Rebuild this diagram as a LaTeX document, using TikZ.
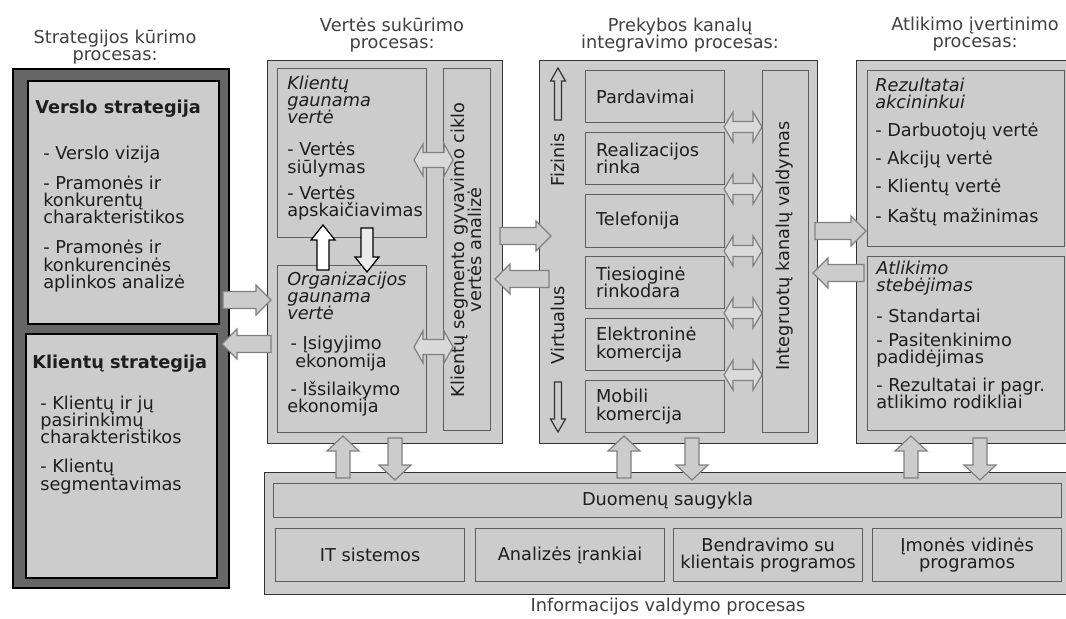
\documentclass[tikz,border=0pt]{standalone}
\usepackage{fontspec}
\setmainfont{DejaVu Sans}
\usetikzlibrary{calc}

\definecolor{boxfill}{HTML}{CCCCCC}
\definecolor{darkfill}{HTML}{666666}
\definecolor{frame}{HTML}{333333}
\definecolor{innerframe}{HTML}{5E5E5E}
\definecolor{arrowfill}{HTML}{CCCCCC}
\definecolor{arrowline}{HTML}{808080}
\definecolor{dblfill}{HTML}{DADADA}
\definecolor{ink}{HTML}{1E1E1E}

% one-headed block arrow: style, tail, tip, shaft half-width, head half-width, head length
\newcommand\blockarrow[6]{%
  \path ($(#3)!#6!(#2)$) coordinate (ba-base);
  \draw[#1] ($(#2)!#4!90:(#3)$) -- ($(ba-base)!#4!-90:(#2)$)
    -- ($(ba-base)!#5!-90:(#2)$) -- (#3) -- ($(ba-base)!#5!90:(#2)$)
    -- ($(ba-base)!#4!90:(#2)$) -- ($(#2)!#4!-90:(#3)$) -- cycle;
}
% two-headed block arrow: style, end A, end B, shaft half-width, head half-width, head length
\newcommand\twowayarrow[6]{%
  \path ($(#2)!#6!(#3)$) coordinate (tw-a) ($(#3)!#6!(#2)$) coordinate (tw-b);
  \draw[#1] (#2) -- ($(tw-a)!#5!90:(#3)$) -- ($(tw-a)!#4!90:(#3)$)
    -- ($(tw-b)!#4!-90:(#2)$) -- ($(tw-b)!#5!-90:(#2)$) -- (#3)
    -- ($(tw-b)!#5!90:(#2)$) -- ($(tw-b)!#4!90:(#2)$)
    -- ($(tw-a)!#4!-90:(#3)$) -- ($(tw-a)!#5!-90:(#3)$) -- cycle;
}

\tikzset{
  txt/.style={font=\fontsize{13.3pt}{13pt}\selectfont, text=ink, inner sep=0pt},
  sz/.style 2 args={minimum width=#1*0.75pt, minimum height=#2*0.75pt},
  panel/.style={draw=frame, fill=boxfill, line width=1.1pt, inner sep=0pt, anchor=north west},
  strategypanel/.style={draw=black, fill=darkfill, line width=1.4pt, inner sep=0pt, anchor=north west},
  strategybox/.style={draw=black, fill=boxfill, line width=1.4pt, inner sep=0pt, anchor=north west},
  cell/.style={draw=innerframe, fill=boxfill, line width=0.9pt, inner sep=0pt, anchor=north west},
  textcell/.style={cell, txt, align=left, text width=88.5pt},
  infocell/.style={cell, txt, align=center},
  title/.style={txt, text=ink!85, align=center, anchor=north},
  blocktext/.style={txt, align=left, anchor=north west},
  sidetext/.style={txt, rotate=90, align=center},
  bigarrow/.style={draw=arrowline, fill=arrowfill, line width=0.9pt},
  upwhite/.style={draw=black, fill=white, line width=0.9pt},
  downgrey/.style={draw=black, fill=black!8, line width=0.9pt},
  dblarrow/.style={draw=arrowline, fill=dblfill, line width=0.9pt},
  dirarrow/.style={draw=frame, fill=boxfill, line width=0.9pt},
}

\begin{document}
\begin{tikzpicture}[x=0.75pt, y=-0.75pt]
\useasboundingbox (0,0) rectangle (1066,618);
\clip (0,0) rectangle (1066,618);
\fill[white] (0,0) rectangle (1066,618);

% ---------- column titles ----------
\node[title] (t1) at (115,29.5) {Strategijos kūrimo\\procesas:};
\node[title] (t2) at (392,17.5) {Vertės sukūrimo\\procesas:};
\node[title] (t3) at (680,17.5) {Prekybos kanalų\\integravimo procesas:};
\node[title] (t4) at (975,16.5) {Atlikimo įvertinimo\\procesas:};

% ---------- strategy column ----------
\node[strategypanel, sz={216}{519}] (strat) at (12,68) {};
\node[strategybox, sz={191}{243}] (vs) at (27,80) {};
\node[strategybox, sz={191}{244}] (ks) at (25,333) {};
\node[blocktext] (vs-h) at (35,99.5) {\textbf{Verslo strategija}};
\node[blocktext] (vs-l) at (43,145.5) {- Verslo vizija\\[9.5pt]- Pramonės ir\\konkurentų\\charakteristikos\\[9.5pt]- Pramonės ir\\konkurencinės\\aplinkos analizė};
\node[blocktext] (ks-h) at (32,354.5) {\textbf{Klientų strategija}};
\node[blocktext] (ks-l) at (40,395.5) {- Klientų ir jų\\pasirinkimų\\charakteristikos\\[8.8pt]- Klientų\\segmentavimas};

% ---------- value creation column ----------
\node[panel, sz={235}{383}] (val) at (267,60) {};
\node[cell, sz={149}{169}] (kgv) at (277,68) {};
\node[cell, sz={149}{167}] (ogv) at (277,265) {};
\node[cell, sz={47}{362}] (lcv) at (443,68) {};
\node[blocktext] (kgv-t) at (287,75.5) {\textit{Klientų}\\\textit{gaunama}\\\textit{vertė}\\[11pt]- Vertės\\siūlymas\\[6.5pt]- Vertės\\apskaičiavimas};
\node[blocktext] (ogv-t) at (287,271.5) {\textit{Organizacijos}\\\textit{gaunama}\\\textit{vertė}\\[9.5pt]\hspace*{2.5pt}- Įsigyjimo\\\hspace*{6pt}ekonomija\\[6.5pt]\hspace*{2.5pt}- Išsilaikymo\\ekonomija};
\node[sidetext] (lcv-t) at (466.5,250) {Klientų segmento gyvavimo ciklo\\vertės analizė};

% ---------- channel integration column ----------
\node[panel, sz={278}{383}] (chan) at (539,60) {};
\node[textcell, sz={139}{52}] (c1) at (585,70) {Pardavimai};
\node[textcell, sz={139}{52}] (c2) at (585,132) {Realizacijos\\rinka};
\node[textcell, sz={139}{53}] (c3) at (585,194) {Telefonija};
\node[textcell, sz={139}{52}] (c4) at (585,256) {Tiesioginė\\rinkodara};
\node[textcell, sz={139}{52}] (c5) at (585,318) {Elektroninė\\komercija};
\node[textcell, sz={139}{52}] (c6) at (585,380) {Mobili\\komercija};
\node[cell, sz={46}{362}] (icv) at (762,70) {};
\node[sidetext] (icv-t) at (785,246) {Integruotų kanalų valdymas};
\node[sidetext] (phys) at (558,160) {Fizinis};
\node[sidetext] (virt) at (558,325) {Virtualus};

% ---------- performance column ----------
\node[panel, sz={224}{383}] (perf) at (856,60) {};
\node[cell, sz={197}{176}] (res) at (867,70) {};
\node[cell, sz={197}{174}] (mon) at (867,256) {};
\node[blocktext] (res-t) at (875,77.5) {\textit{Rezultatai}\\\textit{akcininkui}\\[8pt]- Darbuotojų vertė\\[8pt]- Akcijų vertė\\[8pt]- Klientų vertė\\[8pt]- Kaštų mažinimas};
\node[blocktext] (mon-t) at (876,260.5) {\textit{Atlikimo}\\\textit{stebėjimas}\\[10pt]- Standartai\\[5pt]- Pasitenkinimo\\padidėjimas\\[8pt]- Rezultatai ir pagr.\\atlikimo rodikliai};

% ---------- information management ----------
\node[panel, sz={816}{122}] (info) at (264,472) {};
\node[infocell, sz={788}{34}] (db) at (273,483) {Duomenų saugykla};
\node[infocell, sz={189}{53}] (i1) at (275,528) {IT sistemos};
\node[infocell, sz={189}{53}] (i2) at (475,528) {Analizės įrankiai};
\node[infocell, sz={189}{53}] (i3) at (673,528) {Bendravimo su\\klientais programos};
\node[infocell, sz={189}{53}] (i4) at (872,528) {Įmonės vidinės\\programos};
\node[txt, text=ink!85] (cap) at (668,607) {Informacijos valdymo procesas};

% ---------- arrow end points ----------
\coordinate (a1s) at (223,300); \coordinate (a1e) at (271,300);
\coordinate (a2s) at (271,344); \coordinate (a2e) at (222,344);
\coordinate (a3s) at (500,236); \coordinate (a3e) at (551,236);
\coordinate (a4s) at (549,279); \coordinate (a4e) at (495,279);
\coordinate (a5s) at (815,231); \coordinate (a5e) at (866,231);
\coordinate (a6s) at (864,273); \coordinate (a6e) at (813,273);

% horizontal process arrows
\blockarrow{bigarrow}{a1s}{a1e}{6.4pt}{11.25pt}{11.25pt}
\blockarrow{bigarrow}{a2s}{a2e}{6.4pt}{11.25pt}{11.25pt}
\blockarrow{bigarrow}{a3s}{a3e}{6.4pt}{11.25pt}{11.25pt}
\blockarrow{bigarrow}{a4s}{a4e}{6.4pt}{11.25pt}{11.25pt}
\blockarrow{bigarrow}{a5s}{a5e}{6.4pt}{11.25pt}{11.25pt}
\blockarrow{bigarrow}{a6s}{a6e}{6.4pt}{11.25pt}{11.25pt}

% arrows between the columns and the information block
\foreach \u/\d in {343/395, 624/692, 911/980}{
  \coordinate (us) at (\u,478); \coordinate (ue) at (\u,436);
  \coordinate (ds) at (\d,438); \coordinate (de) at (\d,480);
  \blockarrow{bigarrow}{us}{ue}{5.25pt}{12pt}{11.25pt}
  \blockarrow{bigarrow}{ds}{de}{5.25pt}{12pt}{11.25pt}
}

% arrows between the two value boxes
\coordinate (vu-s) at (323,270); \coordinate (vu-e) at (323,225);
\coordinate (vd-s) at (367,228); \coordinate (vd-e) at (367,272);
\blockarrow{upwhite}{vu-s}{vu-e}{4.5pt}{9pt}{11.25pt}
\blockarrow{downgrey}{vd-s}{vd-e}{4.5pt}{9pt}{11.25pt}

% links to the life-cycle analysis bar
\coordinate (k1a) at (414,160); \coordinate (k1b) at (453,160);
\coordinate (k2a) at (414,347); \coordinate (k2b) at (453,347);
\twowayarrow{dblarrow}{k1a}{k1b}{5.6pt}{12pt}{6.75pt}
\twowayarrow{dblarrow}{k2a}{k2b}{5.6pt}{12pt}{6.75pt}

% links from the channels to the integrated management bar
\foreach \y in {127,189,251,313,375}{
  \coordinate (ca) at (724,\y); \coordinate (cb) at (762,\y);
  \twowayarrow{dblarrow}{ca}{cb}{4.1pt}{11.25pt}{6.75pt}
}

% physical / virtual direction arrows
\coordinate (pf-s) at (558,120); \coordinate (pf-e) at (558,68);
\coordinate (pv-s) at (558,382); \coordinate (pv-e) at (558,432);
\blockarrow{dirarrow}{pf-s}{pf-e}{2.6pt}{5.6pt}{9.75pt}
\blockarrow{dirarrow}{pv-s}{pv-e}{2.6pt}{5.6pt}{9.75pt}

\end{tikzpicture}
\end{document}
